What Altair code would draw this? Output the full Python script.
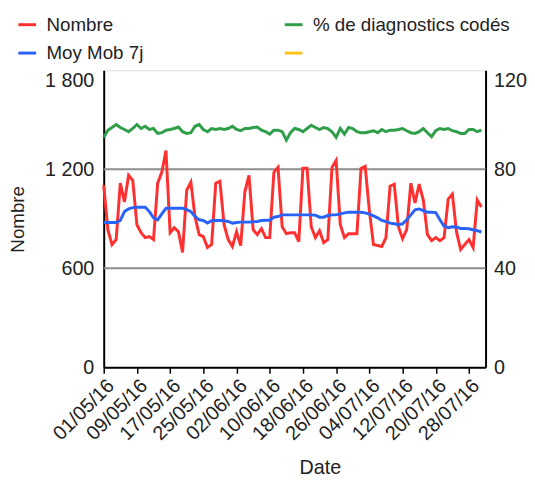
import altair as alt
import pandas as pd

# ---- data ----
start_date = "2016-05-01"
n_days = 92

nombre = [1104, 834, 744, 774, 1116, 1002, 1164, 1134, 864, 816,
          786, 792, 774, 1116, 1182, 1314, 816, 846, 822, 696,
          1074, 1122, 912, 804, 792, 726, 744, 1116, 1128, 864,
          774, 732, 822, 738, 1062, 1164, 834, 804, 840, 786,
          786, 1182, 1212, 852, 810, 816, 816, 762, 1206, 1206,
          852, 786, 828, 756, 774, 1212, 1254, 864, 786, 810,
          810, 810, 1206, 1218, 950, 744, 738, 732, 786, 1098,
          1110, 852, 780, 834, 1116, 996, 1110, 1014, 804, 768,
          786, 768, 786, 1020, 1050, 822, 714, 744, 774, 726,
          1014, 972]

moy_mob = [878, 878, 878, 878, 890, 944, 960, 968, 970, 970,
           970, 944, 906, 894, 930, 964, 964, 964, 964, 964,
           956, 944, 914, 894, 890, 874, 888, 890, 890, 888,
           884, 874, 878, 880, 880, 880, 882, 884, 890, 892,
           892, 910, 914, 924, 924, 924, 924, 924, 924, 924,
           924, 922, 910, 910, 920, 924, 924, 930, 936, 940,
           940, 940, 940, 936, 928, 918, 906, 890, 884, 874,
           870, 864, 870, 894, 924, 954, 960, 950, 940, 940,
           938, 894, 856, 846, 852, 850, 842, 842, 840, 834,
           828, 820]

pct_codes = [92.9, 95.8, 96.9, 98.1, 96.9, 96.1, 95.2, 96.5, 98.1, 96.5,
             97.4, 96.1, 96.5, 94.5, 94.8, 95.8, 96.1, 96.5, 97.1, 95.2,
             94.5, 94.8, 97.4, 98.1, 96.1, 95.2, 96.5, 96.1, 96.5, 96.1,
             96.5, 97.4, 96.1, 95.6, 96.5, 96.5, 96.9, 97.1, 95.8, 95.2,
             94.2, 95.8, 95.8, 95.2, 91.8, 94.8, 96.5, 96.1, 95.2, 96.5,
             97.8, 96.9, 96.1, 96.9, 96.5, 95.2, 92.9, 96.5, 94.2, 96.9,
             96.5, 95.2, 94.8, 94.8, 95.2, 95.6, 94.8, 96.1, 95.2, 95.8,
             95.8, 96.1, 96.5, 95.6, 94.8, 94.5, 95.2, 96.5, 94.8, 93.2,
             95.6, 96.5, 96.1, 96.5, 95.6, 95.2, 94.5, 94.5, 96.1, 96.1,
             95.2, 95.8]

series_names = ["Nombre", "% de diagnostics codés", "Moy Mob 7j", ""]
series_colors = ["#ff3030", "#2e9e48", "#2962f6", "#fcc419"]

left_ticks = [0, 600, 1200, 1800]
grid_values = [600, 1200]
right_ticks = [0, 40, 80, 120]
x_tick_days = [1, 9, 17, 25, 2, 10, 18, 26, 4, 12, 20, 28]
x_tick_months = [5, 5, 5, 5, 6, 6, 6, 6, 7, 7, 7, 7]

# ---- build tables ----
dates = pd.date_range(start_date, periods=n_days, freq="D").strftime("%Y-%m-%d").tolist()
left_df = pd.DataFrame({
    "date": dates * 2,
    "value": nombre + moy_mob,
    "serie": ["Nombre"] * n_days + ["Moy Mob 7j"] * n_days,
})
right_df = pd.DataFrame({"date": dates, "value": pct_codes,
                         "serie": ["% de diagnostics codés"] * n_days})
grid_df = pd.DataFrame({"value": grid_values})

FONT = "Liberation Sans"
TXT = "#222222"
AX = 20

x_enc = alt.X(
    "date:T",
    scale=alt.Scale(type="utc", domain=[
        alt.DateTime(year=2016, month=5, date=1, utc=True),
        alt.DateTime(year=2016, month=8, date=1, utc=True)]),
    axis=alt.Axis(
        values=[alt.DateTime(year=2016, month=m, date=d, utc=True)
                for d, m in zip(x_tick_days, x_tick_months)],
        format="%d/%m/%y", labelAngle=-45, labelFontSize=AX, labelColor=TXT,
        labelPadding=2, labelOverlap=False, labelBound=False, labelFlush=False,
        grid=False, domainColor="black", domainWidth=2,
        tickColor="black", tickWidth=1.5, tickSize=6,
        title="Date", titleFontSize=AX, titleFontWeight="normal", titleColor=TXT,
        titleX=219, titleY=92, labelFont=FONT, titleFont=FONT),
)

left_axis = alt.Axis(
    values=left_ticks, labelExpr="replace(format(datum.value, ','), ',', ' ')",
    labelBaseline=alt.condition("datum.value == 1800", alt.value("top"), alt.value("middle")),
    grid=False, ticks=False, domainColor="black", domainWidth=2,
    labelFontSize=AX, labelColor=TXT, labelPadding=10, labelFont=FONT,
    title="Nombre", titleFontSize=AX - 1, titleFontWeight="normal", titleColor=TXT,
    titleFont=FONT, titleX=-77)
y_left = alt.Y("value:Q", scale=alt.Scale(domain=[0, 1800]), axis=left_axis)

color_enc = alt.Color(
    "serie:N",
    scale=alt.Scale(domain=series_names, range=series_colors),
    legend=alt.Legend(
        orient="none", legendX=-88, legendY=-57, columns=2, direction="horizontal",
        columnPadding=136, rowPadding=8, title=None, values=series_names,
        symbolType="stroke", symbolSize=324,
        symbolStrokeWidth=3, labelFontSize=19, labelColor=TXT, labelFont=FONT,
        labelOffset=9, labelLimit=400),
)

grid = alt.Chart(grid_df).mark_rule(color="#8c8c8c", strokeWidth=2).encode(y=y_left)

left_lines = alt.Chart(left_df).mark_line(strokeWidth=3).encode(
    x=x_enc, y=y_left, color=color_enc)

right_line = alt.Chart(right_df).mark_line(strokeWidth=3).encode(
    x=x_enc,
    y=alt.Y("value:Q", scale=alt.Scale(domain=[0, 120]),
            axis=alt.Axis(orient="right", values=right_ticks, grid=False, ticks=False,
                          labelBaseline=alt.condition("datum.value == 120", alt.value("top"),
                                                      alt.value("middle")),
                          domainColor="black", domainWidth=2, labelFontSize=AX,
                          labelColor=TXT, labelPadding=8, labelFont=FONT, title=None)),
    color=color_enc)

chart = alt.layer(alt.layer(grid, left_lines), right_line).resolve_scale(
    y="independent").properties(
    width=387, height=301,
    autosize=alt.AutoSizeParams(type="none"),
    padding={"left": 97, "top": 60, "right": 42, "bottom": 110},
).configure_view(stroke=None).configure(font=FONT)

chart.save("out.html", embed_options={"renderer": "svg", "actions": False})
